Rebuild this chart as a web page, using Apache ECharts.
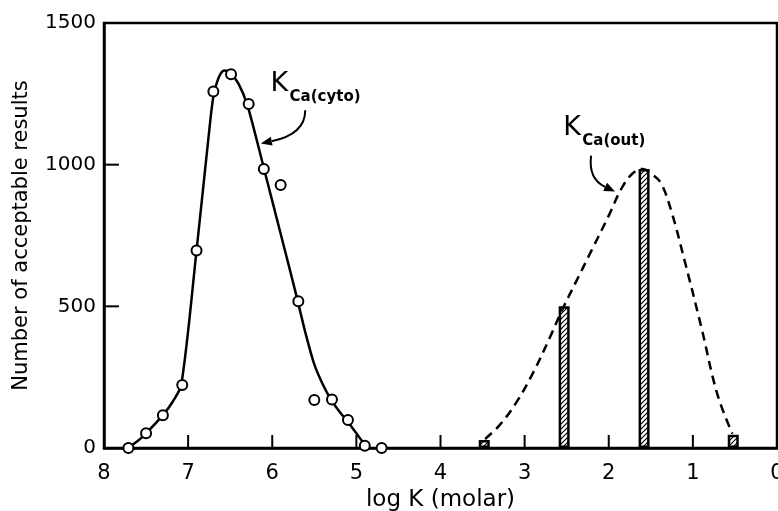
<!DOCTYPE html>
<html>
<head>
<meta charset="utf-8">
<script src="https://cdn.jsdelivr.net/npm/echarts@6/dist/echarts.min.js"></script>
<style>
    html, body {margin: 0; padding: 0; background: #fff;}
    #chart_1 {width: 778px; height: 511px;}
</style>
</head>
<body>
<div id="chart_1"></div>
<script>
// K_Ca(cyto): open circles
var cytoLogK = [7.71, 7.50, 7.30, 7.07, 6.90, 6.70, 6.49, 6.28, 6.10, 5.90, 5.69, 5.50, 5.29, 5.10, 4.90, 4.70];
var cytoCount = [0, 52, 116, 222, 697, 1258, 1319, 1214, 985, 928, 518, 169, 171, 99, 8, 0];

// solid curve
var cytoCurveLogK = [7.72, 7.60, 7.50, 7.30, 7.18, 7.08, 6.90, 6.76, 6.70, 6.64, 6.57, 6.50, 6.40, 6.30, 6.20, 6.10, 6.00, 5.90, 5.80, 5.70, 5.60, 5.50, 5.40, 5.30, 5.20, 5.10, 5.00, 4.92, 4.85];
var cytoCurveCount = [0, 25, 52, 116, 165, 225, 697, 1090, 1240, 1305, 1332, 1325, 1285, 1214, 1105, 988, 872, 756, 640, 522, 400, 295, 225, 170, 128, 92, 52, 20, 0];

// K_Ca(out): hatched bars
var outLogK = [3.48, 2.53, 1.58, 0.52];
var outCount = [28, 500, 985, 47];

// dashed curve
var outCurveLogK = [3.47, 3.30, 3.10, 2.90, 2.70, 2.55, 2.40, 2.20, 2.00, 1.85, 1.72, 1.60, 1.48, 1.38, 1.26, 1.10, 0.90, 0.71, 0.53];
var outCurveCount = [32, 80, 160, 265, 390, 490, 580, 700, 820, 915, 968, 985, 965, 935, 840, 663, 427, 191, 50];

// inner tick marks
var xTickLogK = [7, 6, 5, 4, 3, 2, 1];
var yTickCount = [500, 1000];

// axis runs from log K = 8 on the left to 0 on the right
var LOGK_MAX = 8;
function xOf(logK) { return LOGK_MAX - logK; }

function zip(a, b) {
    return a.map(function (v, i) { return [xOf(v), b[i]]; });
}

// hatch fill for the bars
var hatch = document.createElement('canvas');
hatch.width = 5;
hatch.height = 5;
var hc = hatch.getContext('2d');
hc.fillStyle = '#fff';
hc.fillRect(0, 0, 5, 5);
hc.strokeStyle = '#000';
hc.lineWidth = 1.2;
hc.beginPath();
hc.moveTo(0, 5); hc.lineTo(5, 0);
hc.moveTo(-1, 1); hc.lineTo(1, -1);
hc.moveTo(4, 6); hc.lineTo(6, 4);
hc.stroke();

var font = 'DejaVu Sans';
var myChart = echarts.init(document.getElementById('chart_1'));
var option = {
    animation: false,
    backgroundColor: '#fff',
    grid: {
        left: 104, right: 1, top: 23, bottom: 63,
        outerBounds: {left: -60, right: -60, top: -60, bottom: -60},
        show: true, borderColor: '#000', borderWidth: 2.5
    },
    xAxis: {
        type: 'value',
        min: 0, max: 8, interval: 1,
        name: 'log K (molar)',
        nameLocation: 'middle',
        nameGap: 36,
        nameTextStyle: {fontFamily: font, fontSize: 23, color: '#000'},
        axisLine: {lineStyle: {color: '#000', width: 2.5}},
        axisTick: {show: false},
        axisLabel: {
            fontFamily: font, fontSize: 21, color: '#000', margin: 15,
            formatter: function (v) { return String(LOGK_MAX - v); }
        },
        splitLine: {show: false}
    },
    yAxis: {
        type: 'value',
        min: 0, max: 1500, interval: 500,
        name: 'Number of acceptable results',
        nameLocation: 'middle',
        nameGap: 72,
        nameTextStyle: {fontFamily: font, fontSize: 21, color: '#000'},
        axisLine: {lineStyle: {color: '#000', width: 2.5}},
        axisTick: {show: false},
        axisLabel: {
            fontFamily: font, fontSize: 20, color: '#000', margin: 8,
            formatter: function (v) { return String(v); }
        },
        splitLine: {show: false}
    },
    series: [
        {
            name: 'out bars',
            type: 'bar',
            barWidth: 11,
            data: zip(outLogK, outCount),
            itemStyle: {
                color: {image: hatch, repeat: 'repeat'},
                borderColor: '#000',
                borderWidth: 2.5
            },
            z: 2
        },
        {
            name: 'out curve',
            type: 'line',
            smooth: 0.4,
            showSymbol: false,
            data: zip(outCurveLogK, outCurveCount),
            lineStyle: {color: '#000', width: 2.5, type: [9, 6]},
            z: 3
        },
        {
            name: 'cyto curve',
            type: 'line',
            smooth: 0.3,
            showSymbol: false,
            data: zip(cytoCurveLogK, cytoCurveCount),
            lineStyle: {color: '#000', width: 2.5},
            z: 3
        },
        {
            name: 'cyto',
            type: 'scatter',
            symbol: 'circle',
            symbolSize: 10,
            data: zip(cytoLogK, cytoCount),
            itemStyle: {color: '#fff', borderColor: '#000', borderWidth: 2, opacity: 1},
            z: 5
        },
        {
            // x-axis tick marks pointing up into the plot
            name: 'x ticks',
            type: 'scatter',
            symbol: 'rect',
            symbolSize: [2, 13],
            symbolOffset: [0, '-50%'],
            silent: true,
            clip: false,
            data: xTickLogK.map(function (k) { return [xOf(k), 0]; }),
            itemStyle: {color: '#000', opacity: 1},
            z: 6
        }
    ]
};
myChart.setOption(option);

// labels, arrows and y ticks, anchored in data units (log K, count)
function px(p) {
    return myChart.convertToPixel({gridIndex: 0}, [xOf(p[0]), p[1]]);
}

function arrow(from, ctrl, to) {
    var a = px(from), c = px(ctrl), b = px(to);
    var dx = b[0] - c[0], dy = b[1] - c[1];
    var len = Math.sqrt(dx * dx + dy * dy);
    var ux = dx / len, uy = dy / len;
    var bx = b[0] - ux * 11, by = b[1] - uy * 11;
    return [
        {
            type: 'bezierCurve',
            shape: {x1: a[0], y1: a[1], cpx1: c[0], cpy1: c[1], x2: bx, y2: by},
            style: {stroke: '#000', lineWidth: 2, fill: null}
        },
        {
            type: 'polygon',
            shape: {points: [[b[0], b[1]], [bx - uy * 4.5, by + ux * 4.5], [bx + uy * 4.5, by - ux * 4.5]]},
            style: {fill: '#000'}
        }
    ];
}

function label(at, sub) {
    var p = px(at);
    return [
        {
            type: 'text', x: p[0], y: p[1] - 2,
            style: {text: 'K', font: '27px "DejaVu Sans"', fill: '#000'}
        },
        {
            type: 'text', x: p[0] + 19, y: p[1] + 17,
            style: {text: sub, font: 'bold 15px "DejaVu Sans"', fill: '#000'}
        }
    ];
}

function yTicks() {
    return yTickCount.map(function (n) {
        var p = px([LOGK_MAX, n]);
        return {
            type: 'rect', z: 100,
            shape: {x: p[0], y: p[1] - 1, width: 15, height: 2},
            style: {fill: '#000'}
        };
    });
}

var graphics = yTicks()
    .concat(label([6.02, 1326], 'Ca(cyto)'))
    .concat(arrow([5.608, 1192], [5.608, 1107], [6.135, 1075]))
    .concat(label([2.54, 1170], 'Ca(out)'))
    .concat(arrow([2.21, 1032], [2.245, 950], [1.925, 905]));

myChart.setOption({graphic: graphics});
</script>
</body>
</html>
